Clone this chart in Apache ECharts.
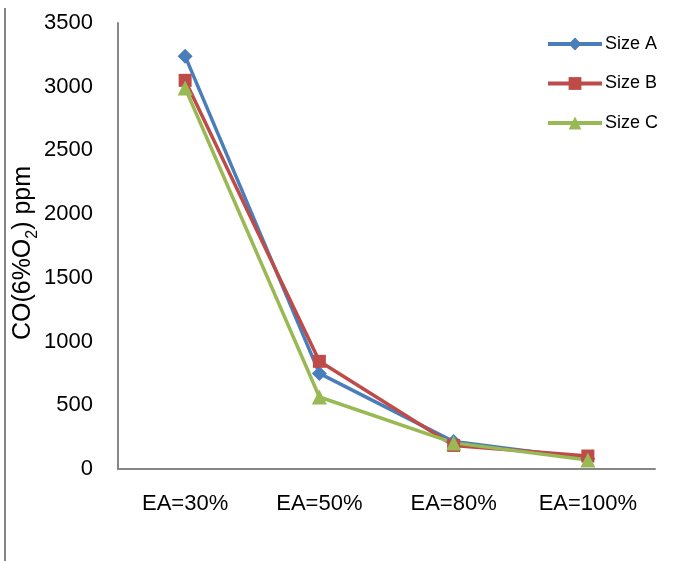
<!DOCTYPE html>
<html>
<head>
<meta charset="utf-8">
<script src="https://cdn.jsdelivr.net/npm/echarts@6/dist/echarts.min.js"></script>
<style>
  html, body { margin: 0; padding: 0; background: #fff; }
  #chart { width: 678px; height: 561px; }
</style>
</head>
<body>
<div id="chart"></div>
<script>
// Excess-air levels on the x axis
const categories = ['EA=30%', 'EA=50%', 'EA=80%', 'EA=100%'];

// CO concentration corrected to 6% O2, in ppm
const sizeA = [3240, 750, 215, 80];
const sizeB = [3050, 845, 185, 102];
const sizeC = [2990, 565, 205, 70];

const seriesNames = ['Size A', 'Size B', 'Size C'];

const FONT = "'Liberation Sans', Arial, sans-serif";
const AXIS_GREY = '#868686';

const chart = echarts.init(document.getElementById('chart'), null, { renderer: 'canvas' });

function lineSeries(name, data, color, symbol, size) {
  return {
    name: name,
    type: 'line',
    data: data,
    symbol: symbol,
    symbolSize: size,
    showAllSymbol: true,
    itemStyle: { color: color },
    lineStyle: { color: color, width: 3.5 },
    emphasis: { disabled: true },
    animation: false
  };
}

chart.setOption({
  backgroundColor: '#ffffff',
  animation: false,
  textStyle: { fontFamily: FONT },
  grid: {
    left: 118, right: 23, top: 23, bottom: 92,
    containLabel: false,
    outerBoundsMode: 'none'
  },
  legend: {
    orient: 'vertical',
    left: 541,
    top: 30,
    padding: 5,
    itemWidth: 54,
    itemHeight: 16,
    itemGap: 21.5,
    data: seriesNames,
    lineStyle: { width: 4 },
    textStyle: { fontFamily: FONT, fontSize: 18, color: '#000', padding: [0, 0, 0, -2] }
  },
  xAxis: {
    type: 'category',
    data: categories,
    boundaryGap: true,
    axisLine: { show: true, lineStyle: { color: AXIS_GREY, width: 2 } },
    axisTick: { show: false },
    axisLabel: { fontFamily: FONT, fontSize: 22, color: '#000', margin: 24 },
    splitLine: { show: false }
  },
  yAxis: {
    type: 'value',
    min: 0,
    max: 3500,
    interval: 500,
    axisLine: { show: true, lineStyle: { color: AXIS_GREY, width: 2 } },
    axisTick: { show: false },
    axisLabel: {
      fontFamily: FONT, fontSize: 22, color: '#000', margin: 25,
      formatter: function (v) { return String(v); }
    },
    splitLine: { show: false },
    name: '{a|CO(6%O}{s|2}{a|) ppm}',
    nameLocation: 'middle',
    nameGap: 80,
    nameRotate: 90,
    nameMoveOverlap: false,
    nameTextStyle: {
      padding: [0, 14, 0, 0],
      rich: {
        a: { fontFamily: FONT, fontSize: 25, color: '#000', lineHeight: 29 },
        s: { fontFamily: FONT, fontSize: 16, color: '#000', verticalAlign: 'bottom', lineHeight: 16, padding: [0, 0, -3, 0] }
      }
    }
  },
  series: [
    lineSeries(seriesNames[0], sizeA, '#4A7EBB', 'diamond', 15),
    lineSeries(seriesNames[1], sizeB, '#BE4B48', 'rect', 13),
    lineSeries(seriesNames[2], sizeC, '#98B954', 'triangle', 15)
  ],
  graphic: [
    {
      type: 'line',
      shape: { x1: 5, y1: 8, x2: 5, y2: 561 },
      style: { stroke: AXIS_GREY, lineWidth: 2 },
      silent: true
    }
  ]
});
</script>
</body>
</html>
